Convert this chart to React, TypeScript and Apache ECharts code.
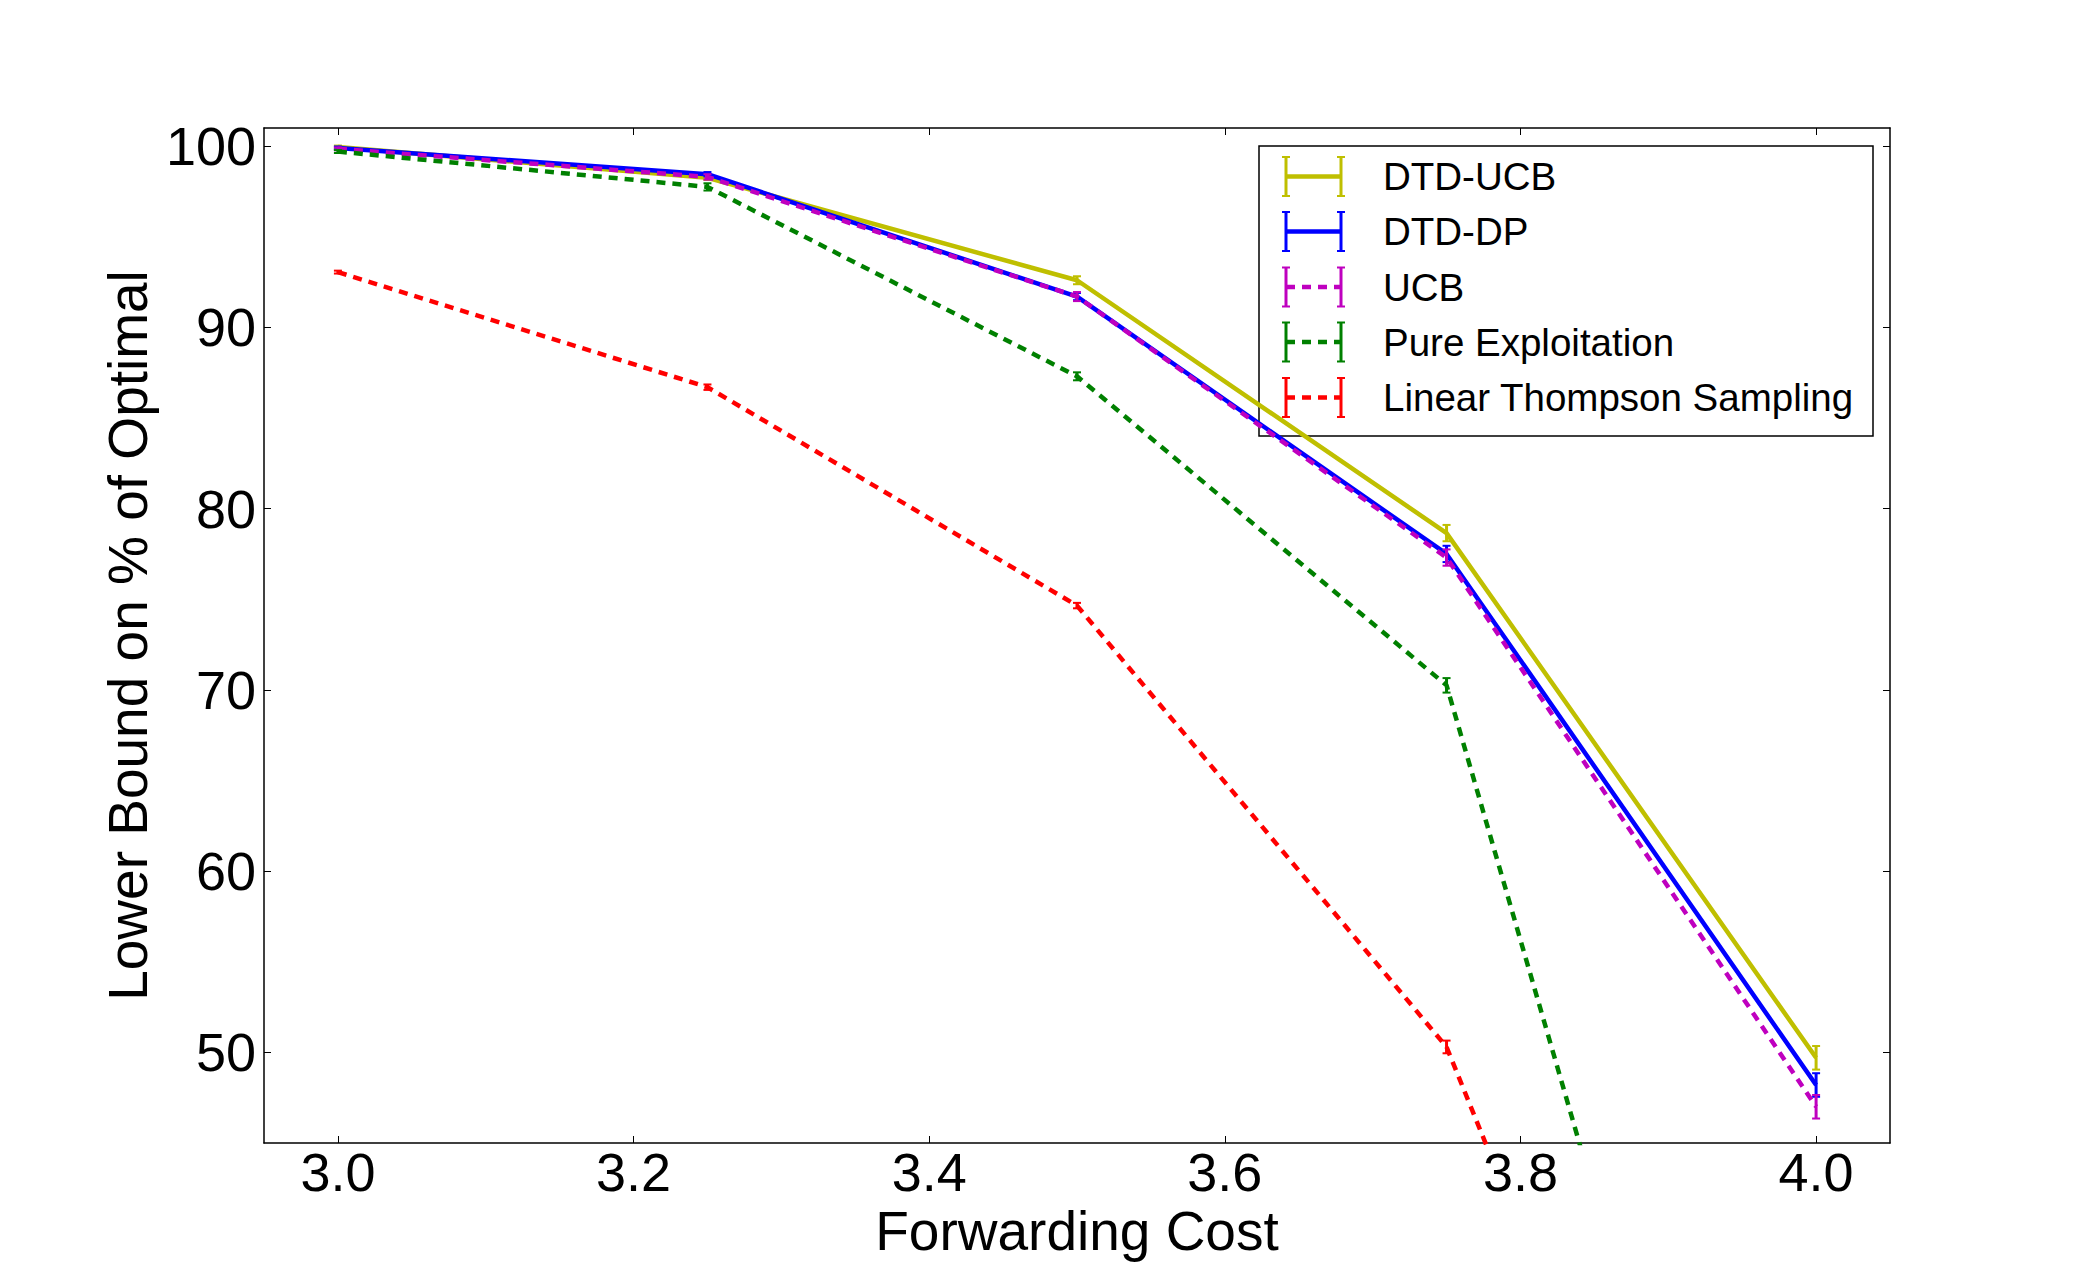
import React, { useEffect, useRef } from "react";
import * as echarts from "echarts";

const xValues = [3.0, 3.25, 3.5, 3.75, 4.0];
const xTicks = [3.0, 3.2, 3.4, 3.6, 3.8, 4.0];
const yTicks = [50, 60, 70, 80, 90, 100];

const seriesNames = ["DTD-UCB", "DTD-DP", "UCB", "Pure Exploitation", "Linear Thompson Sampling"];
const seriesColors = ["#bfbf00", "#0000ff", "#bf00bf", "#008000", "#ff0000"];
const seriesDashed = [false, false, true, true, true];

const dtdUcbValues = [99.95, 98.25, 92.6, 78.65, 49.7];
const dtdDpValues = [99.9, 98.45, 91.7, 77.5, 48.2];
const ucbValues = [99.85, 98.3, 91.7, 77.3, 47.0];
const pureValues = [99.7, 97.75, 87.3, 70.25, 0.0];
const ltsValues = [93.05, 86.7, 74.65, 50.3, 0.0];

const dtdUcbErrors = [0.08, 0.12, 0.22, 0.45, 0.65];
const dtdDpErrors = [0.08, 0.12, 0.2, 0.45, 0.65];
const ucbErrors = [0.08, 0.15, 0.25, 0.45, 0.65];
const pureErrors = [0.08, 0.2, 0.22, 0.4, 0.5];
const ltsErrors = [0.08, 0.15, 0.15, 0.35, 0.5];

const allValues = [dtdUcbValues, dtdDpValues, ucbValues, pureValues, ltsValues];
const allErrors = [dtdUcbErrors, dtdDpErrors, ucbErrors, pureErrors, ltsErrors];

const FONT = "'Liberation Sans', Arial, Helvetica, sans-serif";
const DASH = [9, 7];

export default function App() {
  const ref = useRef<HTMLDivElement>(null);

  useEffect(() => {
    if (!ref.current) return;
    const chart = echarts.init(ref.current, undefined, { renderer: "svg" });

    const series: any[] = [];
    seriesNames.forEach((name, i) => {
      const color = seriesColors[i];
      series.push({
        name,
        type: "line",
        data: xValues.map((x, j) => [x, allValues[i][j]]),
        symbol: "none",
        clip: true,
        z: 10 + i,
        lineStyle: {
          color,
          width: 4.5,
          type: seriesDashed[i] ? DASH : "solid",
          cap: "butt",
        },
      });
      series.push({
        name: name + " error",
        type: "custom",
        clip: true,
        z: 10 + i,
        data: xValues.map((x, j) => [x, allValues[i][j] - allErrors[i][j], allValues[i][j] + allErrors[i][j]]),
        encode: { x: 0, y: [1, 2] },
        renderItem: (params: any, api: any) => {
          const x = api.value(0);
          const p1 = api.coord([x, api.value(1)]);
          const p2 = api.coord([x, api.value(2)]);
          const w = 4;
          return {
            type: "group",
            children: [
              { type: "line", shape: { x1: p1[0], y1: p1[1], x2: p2[0], y2: p2[1] }, style: { stroke: color, lineWidth: 3 } },
              { type: "line", shape: { x1: p1[0] - w, y1: p1[1], x2: p1[0] + w, y2: p1[1] }, style: { stroke: color, lineWidth: 2 } },
              { type: "line", shape: { x1: p2[0] - w, y1: p2[1], x2: p2[0] + w, y2: p2[1] }, style: { stroke: color, lineWidth: 2 } },
            ],
          };
        },
      });
    });

    // legend drawn as graphic (error-bar style icons)
    const legendLeft = 1259;
    const legendTop = 146;
    const legendW = 614;
    const legendH = 290;
    const rowY = [176.5, 231.5, 287, 342, 397.5];
    const iconX0 = 1286;
    const iconX1 = 1341;
    const capH = 19.5;
    const legendChildren: any[] = [
      {
        type: "rect",
        shape: { x: legendLeft, y: legendTop, width: legendW, height: legendH },
        style: { fill: "#ffffff", stroke: "#000000", lineWidth: 1.5 },
      },
    ];
    seriesNames.forEach((name, i) => {
      const cy = rowY[i];
      const color = seriesColors[i];
      legendChildren.push({
        type: "line",
        shape: { x1: iconX0, y1: cy, x2: iconX1, y2: cy },
        style: { stroke: color, lineWidth: 4.5, lineDash: seriesDashed[i] ? DASH : null },
      });
      [iconX0, iconX1].forEach((cx) => {
        legendChildren.push({
          type: "line",
          shape: { x1: cx, y1: cy - capH, x2: cx, y2: cy + capH },
          style: { stroke: color, lineWidth: 3 },
        });
        legendChildren.push({
          type: "line",
          shape: { x1: cx - 4, y1: cy - capH, x2: cx + 4, y2: cy - capH },
          style: { stroke: color, lineWidth: 2 },
        });
        legendChildren.push({
          type: "line",
          shape: { x1: cx - 4, y1: cy + capH, x2: cx + 4, y2: cy + capH },
          style: { stroke: color, lineWidth: 2 },
        });
      });
      legendChildren.push({
        type: "text",
        x: 1383,
        y: cy,
        style: {
          text: name,
          fill: "#000000",
          font: `38.5px ${FONT}`,
          verticalAlign: "middle",
          align: "left",
        },
      });
    });

    const axisLineStyle = { show: true, lineStyle: { color: "#000000", width: 1.5 } };
    const tickStyle = { show: true, inside: true, length: 7, lineStyle: { color: "#000000", width: 1 } };

    chart.setOption({
      animation: false,
      backgroundColor: "#ffffff",
      textStyle: { fontFamily: FONT },
      grid: { left: 264, right: 210, top: 128, bottom: 127, containLabel: false, outerBoundsMode: "none" },
      xAxis: [
        {
          type: "value",
          min: 2.95,
          max: 4.05,
          position: "bottom",
          axisLine: axisLineStyle,
          axisTick: { ...tickStyle, customValues: xTicks },
          axisLabel: {
            customValues: xTicks,
            formatter: (v: number) => v.toFixed(1),
            color: "#000000",
            fontSize: 54,
            fontFamily: FONT,
            margin: 2,
          },
          splitLine: { show: false },
          name: "Forwarding Cost",
          nameLocation: "middle",
          nameGap: 51,
          nameTextStyle: { color: "#000000", fontSize: 55, fontFamily: FONT },
        },
        {
          type: "value",
          min: 2.95,
          max: 4.05,
          position: "top",
          axisLine: axisLineStyle,
          axisTick: { ...tickStyle, customValues: xTicks },
          axisLabel: { show: false, customValues: xTicks },
          splitLine: { show: false },
        },
      ],
      yAxis: [
        {
          type: "value",
          min: 45,
          max: 101,
          position: "left",
          axisLine: axisLineStyle,
          axisTick: { ...tickStyle, customValues: yTicks },
          axisLabel: {
            customValues: yTicks,
            color: "#000000",
            fontSize: 54,
            fontFamily: FONT,
            margin: 8,
          },
          splitLine: { show: false },
          name: "Lower Bound on % of Optimal",
          nameLocation: "middle",
          nameGap: 100,
          nameTextStyle: { color: "#000000", fontSize: 55, fontFamily: FONT },
        },
        {
          type: "value",
          min: 45,
          max: 101,
          position: "right",
          axisLine: axisLineStyle,
          axisTick: { ...tickStyle, customValues: yTicks },
          axisLabel: { show: false, customValues: yTicks },
          splitLine: { show: false },
        },
      ],
      series,
      graphic: [{ type: "group", z: 100, children: legendChildren }],
    });

    return () => {
      chart.dispose();
    };
  }, []);

  return (
    <div
      ref={ref}
      style={{ position: "fixed", left: 0, top: 0, width: 2100, height: 1270, background: "#ffffff" }}
    />
  );
}
